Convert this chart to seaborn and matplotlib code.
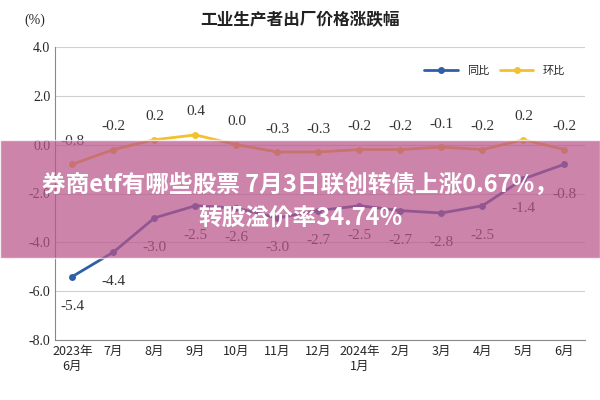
import pandas as pd
import seaborn as sns
import matplotlib.pyplot as plt
from matplotlib import font_manager
from matplotlib.patches import Rectangle

months = ["2023年\n6月", "7月", "8月", "9月", "10月", "11月", "12月",
          "2024年\n1月", "2月", "3月", "4月", "5月", "6月"]
yoy = [-5.4, -4.4, -3.0, -2.5, -2.6, -3.0, -2.7, -2.5, -2.7, -2.8, -2.5, -1.4, -0.8]
mom = [-0.8, -0.2, 0.2, 0.4, 0.0, -0.3, -0.3, -0.2, -0.2, -0.1, -0.2, 0.2, -0.2]
yticks = [4.0, 2.0, 0.0, -2.0, -4.0, -6.0, -8.0]

# find whichever CJK font is actually registered
names = {f.name for f in font_manager.fontManager.ttflist}
CJK = next((n for n in ["Noto Sans CJK SC", "Noto Sans CJK JP", "Noto Sans CJK TC",
                        "Noto Sans CJK KR", "Noto Sans SC"] if n in names), None)
if CJK is None:
    cands = [f.fname for f in font_manager.fontManager.ttflist if "CJK" in f.fname]
    if cands:
        font_manager.fontManager.addfont(cands[0])
        CJK = font_manager.FontProperties(fname=cands[0]).get_name()
    else:
        CJK = "DejaVu Sans"
SERIF = "Liberation Serif"
plt.rcParams["font.family"] = [CJK, "DejaVu Sans"]

df = pd.DataFrame({
    "x": list(range(len(months))) * 2,
    "value": yoy + mom,
    "series": ["同比"] * len(yoy) + ["环比"] * len(mom),
})

sns.set_style("white", {"font.family": [CJK, "DejaVu Sans"]})
fig = plt.figure(figsize=(6, 4), dpi=100)
ax = fig.add_axes([0.092, 0.15, 0.883, 0.7325])

sns.lineplot(data=df, x="x", y="value", hue="series",
             palette={"同比": "#2e5fa8", "环比": "#f2c12e"},
             marker="o", markersize=5, markeredgewidth=0, linewidth=2, ax=ax)

for i, v in enumerate(yoy):
    ax.annotate(f"{v:.1f}", (i, v), xytext=(0, -24), textcoords="offset points",
                ha="center", fontsize=11, fontfamily=SERIF, color="#333333")
for i, v in enumerate(mom):
    ax.annotate(f"{v:.1f}", (i, v), xytext=(0, 14), textcoords="offset points",
                ha="center", fontsize=11, fontfamily=SERIF, color="#333333")

ax.set_xlim(-0.42, 12.5)
ax.set_ylim(-8, 4)
ax.set_yticks(yticks)
ax.set_yticklabels([f"{t:.1f}" for t in yticks], fontfamily=SERIF, fontsize=10)
ax.set_xticks(range(len(months)))
ax.set_xticklabels(months, fontfamily=CJK, fontsize=9)
ax.yaxis.grid(True, color="#d0d0d0", linewidth=0.8)
ax.set_xlabel("")
ax.set_ylabel("")
for s in ["top", "right"]:
    ax.spines[s].set_visible(False)
for s in ["left", "bottom"]:
    ax.spines[s].set_color("#888888")
ax.tick_params(length=0)

ax.legend(loc="upper right", bbox_to_anchor=(0.98, 0.97), ncol=2, frameon=False,
          prop={"family": CJK, "size": 8}, handlelength=3, columnspacing=1)

fig.text(0.5, 0.95, "工业生产者出厂价格涨跌幅", ha="center", va="center",
         fontfamily=CJK, fontsize=12, fontweight="bold", color="#222222")
fig.text(0.04, 0.95, "(%)", ha="left", va="center", fontfamily=SERIF, fontsize=10)

# overlay banner
fig.patches.append(Rectangle((0, 0.355), 1, 0.295, transform=fig.transFigure,
                             facecolor="#b9558a", alpha=0.72, zorder=5))
fig.text(0.5, 0.537, "券商etf有哪些股票 7月3日联创转债上涨0.67%，", ha="center", va="center",
         fontfamily=CJK, fontsize=17, fontweight="bold", color="white", zorder=6)
fig.text(0.5, 0.455, "转股溢价率34.74%", ha="center", va="center",
         fontfamily=CJK, fontsize=17, fontweight="bold", color="white", zorder=6)

fig.savefig("out.png", dpi=100)
